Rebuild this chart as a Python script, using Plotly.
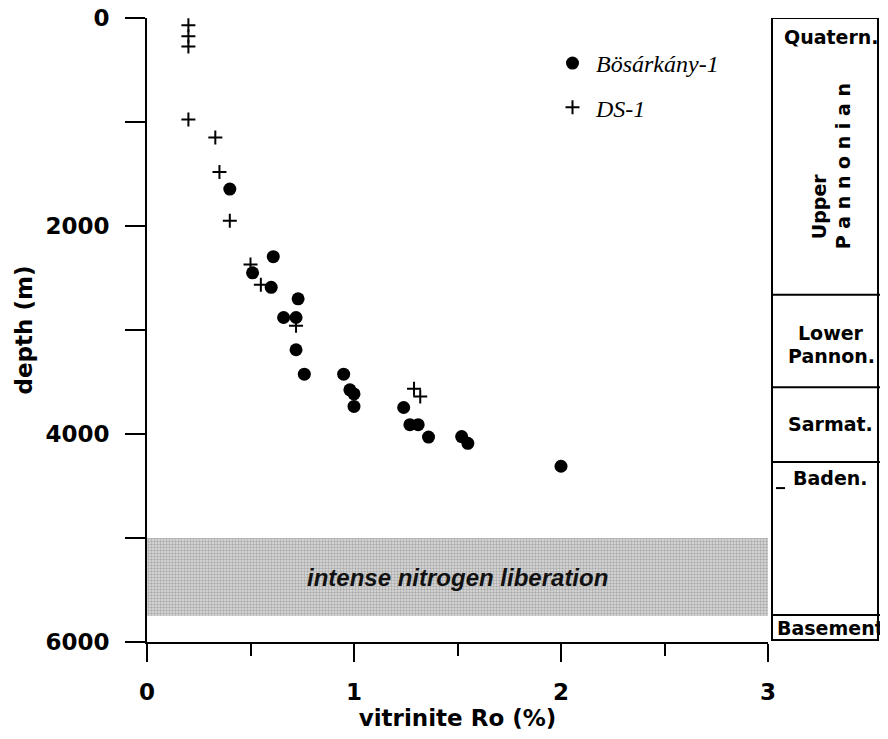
import plotly.graph_objects as go

# ---------------- data ----------------
bos_ro = [0.40, 0.61, 0.51, 0.60, 0.73, 0.66, 0.72, 0.72, 0.76, 0.95,
          0.98, 1.00, 1.00, 1.24, 1.27, 1.31, 1.36, 1.52, 1.55, 2.00]
bos_depth = [1645, 2295, 2450, 2590, 2700, 2880, 2880, 3190, 3425, 3425,
             3575, 3615, 3735, 3745, 3910, 3910, 4030, 4025, 4090, 4310]

ds_ro = [0.20, 0.20, 0.20, 0.20, 0.33, 0.35, 0.40, 0.50, 0.55, 0.72, 1.29, 1.32]
ds_depth = [70, 175, 275, 975, 1150, 1480, 1950, 2370, 2565, 2960, 3565, 3640]

x_ticks = [0, 1, 2, 3]
y_ticks = [0, 2000, 4000, 6000]

band_depth = [5000, 5750]
band_ro = [0, 3]
band_label = "intense nitrogen liberation"

strat_top = 0
strat_bottom = 5980
strat_bounds = [2660, 3550, 4270, 5740]
strat_names = ["Quatern.", "Upper", "P a n n o n i a n", "Lower", "Pannon.",
               "Sarmat.", "Baden.", "Basement"]

# ---------------- figure ----------------
# the page body adds an 8px offset; layout pixels below are screen pixels
OFF = 8
W, H = 888, 739
ML = 147 - OFF
MT = 18 - OFF
MB = H - (642 - OFF)
MR = W - (883 - OFF)
PW = W - ML - MR
PH = H - MT - MB


def px(xp):
    return (xp - OFF - ML) / PW


def py(yp):
    return 1 - (yp - OFF - MT) / PH


fig = go.Figure()

# stippled band
fig.add_trace(go.Scatter(
    x=[band_ro[0], band_ro[1], band_ro[1], band_ro[0], band_ro[0]],
    y=[band_depth[0], band_depth[0], band_depth[1], band_depth[1], band_depth[0]],
    mode="lines", fill="toself", line=dict(width=0),
    fillcolor="rgba(0,0,0,0)",
    fillpattern=dict(shape=".", fgcolor="#777777", bgcolor="#dedede",
                     size=3, solidity=0.5),
    showlegend=False, hoverinfo="skip"))

fig.add_trace(go.Scatter(
    x=bos_ro, y=bos_depth, mode="markers", name="Bösárkány-1",
    legendgroup="a",
    marker=dict(symbol="circle", size=13, color="black")))

fig.add_trace(go.Scatter(
    x=ds_ro, y=ds_depth, mode="markers", name="DS-1",
    legendgroup="b",
    marker=dict(symbol="cross-thin", size=10, color="black",
                line=dict(width=2, color="black"))))

axis_font = dict(family="DejaVu Sans", size=23, color="black", weight="bold")

fig.update_layout(
    width=W, height=H,
    margin=dict(l=ML, r=MR, t=MT, b=MB, autoexpand=False),
    plot_bgcolor="white", paper_bgcolor="white",
    showlegend=True,
    legend=dict(x=px(549), y=py(41), xanchor="left",
                yanchor="top", bgcolor="rgba(0,0,0,0)",
                itemwidth=37,
                font=dict(family="Liberation Serif", size=24, color="black",
                          style="italic"),
                traceorder="grouped", tracegroupgap=10),
    xaxis=dict(domain=[0, (768 - OFF - ML) / PW], range=[0, 3], automargin=False,
               tickvals=x_ticks, ticktext=[str(v) for v in x_ticks],
               ticks="outside", ticklen=18, tickwidth=2, tickcolor="black",
               ticklabelstandoff=10, ticklabeloverflow="allow",
               minor=dict(dtick=0.5, ticks="outside", ticklen=12, tickwidth=2,
                          tickcolor="black"),
               showline=True, linewidth=2, linecolor="black",
               showgrid=False, zeroline=False,
               tickfont=axis_font,
               title=dict(text="vitrinite Ro (%)", font=axis_font, standoff=6)),
    yaxis=dict(range=[6000, 0], tickvals=y_ticks, automargin=False,
               ticktext=[str(v) for v in y_ticks],
               ticks="outside", ticklen=20, tickwidth=2, tickcolor="black",
               ticklabelstandoff=11, ticklabeloverflow="allow",
               minor=dict(dtick=1000, ticks="outside", ticklen=20, tickwidth=2,
                          tickcolor="black"),
               showline=True, linewidth=2, linecolor="black",
               showgrid=False, zeroline=False,
               tickfont=axis_font,
               title=dict(text="depth (m)", font=axis_font, standoff=6)),
)

# band label
fig.add_annotation(x=sum(band_ro) / 2, y=sum(band_depth) / 2, xref="x", yref="y",
                   text=band_label, showarrow=False,
                   font=dict(family="Liberation Sans", size=24, color="#111111",
                             weight="bold", style="italic"))

# stratigraphic column
cx0, cx1, cxl = px(772), px(878), px(882)
fig.add_shape(type="rect", xref="paper", yref="y", x0=cx0, x1=cx1,
              y0=strat_top, y1=strat_bottom, line=dict(color="black", width=2),
              fillcolor="rgba(0,0,0,0)")
for b in strat_bounds:
    fig.add_shape(type="line", xref="paper", yref="y", x0=cx0, x1=cxl,
                  y0=b, y1=b, line=dict(color="black", width=2))
# small dash mark near Baden.
fig.add_shape(type="line", xref="paper", yref="y", x0=px(776), x1=px(785),
              y0=4520, y1=4520, line=dict(color="black", width=2))

strat_font = dict(family="DejaVu Sans", size=19, color="black", weight="bold")
label_pos = [  # (x px, depth, angle, anchor)
    (831, 185, 0, "center"),
    (819, 1810, -90, "center"),
    (843, 1425, -90, "center"),
    (831, 3030, 0, "center"),
    (831, 3250, 0, "center"),
    (830, 3900, 0, "center"),
    (830, 4420, 0, "center"),
    (775, 5870, 0, "left"),
]
for name, (xp, d, ang, anc) in zip(strat_names, label_pos):
    fig.add_annotation(x=px(xp), y=d, xref="paper", yref="y", text=name,
                       xanchor=anc, yanchor="middle",
                       showarrow=False, textangle=ang, font=strat_font)

fig.write_html("out.html")
